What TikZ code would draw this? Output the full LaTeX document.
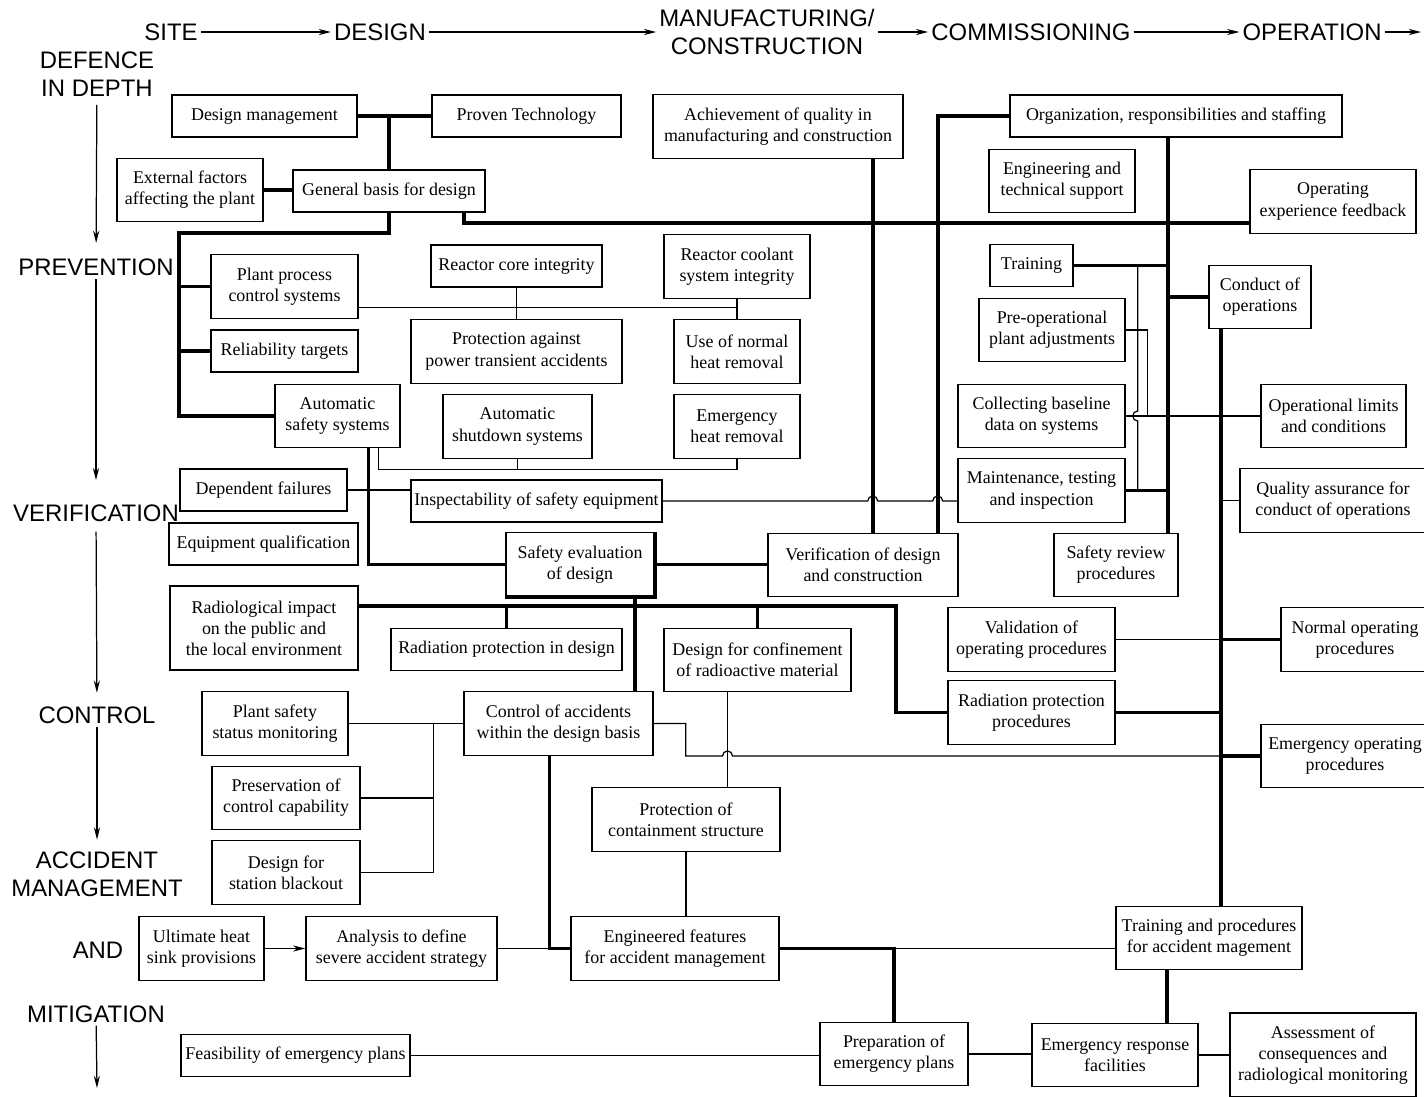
\documentclass[tikz,border=0pt]{standalone}
\usepackage{fontspec}
\setmainfont{Liberation Serif}
\setsansfont{Liberation Sans}
\usetikzlibrary{arrows.meta}

\begin{document}
\begin{tikzpicture}[x=0.02cm, y=-0.02cm, line width=0.7pt,
			box/.style={draw, rectangle, line width=0.8pt, align=center, inner sep=2pt, minimum height=0.84cm, font=\fontsize{10.2}{12}\selectfont},
			tall/.style={minimum height=1.27cm},
			taller/.style={minimum height=1.68cm},
			bw/.style={minimum width=#1*0.02cm},
			phase/.style={font=\sffamily\fontsize{13.6}{15.9}\selectfont, align=center, inner sep=1.5pt},
			main/.style={line width=2.2pt},
			>={Stealth[length=7pt,width=3.5pt]}]
			\useasboundingbox (0,0) rectangle (1424,1096);

			\node[phase](p1) at (171,32) {SITE};
			\node[phase](p2) at (380,32) {DESIGN};
			\node[phase](p3) at (767,32) {MANUFACTURING/\\CONSTRUCTION};
			\node[phase](p4) at (1031,32) {COMMISSIONING};
			\node[phase](p5) at (1312,32) {OPERATION};
			\coordinate (pend) at (1421,32);
			\draw[->] (p1) -- (p2);
			\draw[->] (p2) -- (p3);
			\draw[->] (p3) -- (p4);
			\draw[->] (p4) -- (p5);
			\draw[->] (p5) -- (pend);

			\node[phase](d1) at (97,74) {DEFENCE\\IN DEPTH};
			\node[phase](d2) at (96,267) {PREVENTION};
			\node[phase](d3) at (96,513) {VERIFICATION};
			\node[phase](d4) at (97,715) {CONTROL};
			\node[phase](d5) at (97,874) {ACCIDENT\\MANAGEMENT};
			\node[phase](d6) at (98,950) {AND};
			\node[phase](d7) at (96,1014) {MITIGATION};
			\coordinate (dend) at (97,1088);
			\draw[->, shorten <=3pt, shorten >=7pt] (d1) -- (d2);
			\draw[->, shorten >=12pt] (d2) -- (d3);
			\draw[->, shorten <=4pt, shorten >=6pt] (d3) -- (d4);
			\draw[->, shorten >=5pt] (d4) -- (d5);
			\draw[->] (d7) -- (dend);

			\node[box, bw=185](node1) at (264.5,116) {Design management};
			\node[box, bw=189](node2) at (526.5,116) {Proven Technology};
			\node[box, tall, bw=250](node3) at (778,126.5) {Achievement of quality in\\manufacturing and construction};
			\node[box, bw=332](node4) at (1176,116) {Organization, responsibilities and staffing};
			\node[box, tall, bw=146](node5) at (190,190) {External factors\\affecting the plant};
			\node[box, bw=192](node6) at (389,191) {General basis for design};
			\node[box, tall, bw=146](node7) at (1062,181) {Engineering and\\technical support};
			\node[box, tall, bw=166](node8) at (1333,201.5) {Operating\\experience feedback};
			\node[box, tall, bw=147](node9) at (284.5,286.5) {Plant process\\control systems};
			\node[box, bw=171](node10) at (516.5,266) {Reactor core integrity};
			\node[box, tall, bw=146](node11) at (737,266.5) {Reactor coolant\\system integrity};
			\node[box, bw=83](node12) at (1031.5,265.5) {Training};
			\node[box, tall, bw=102](node13) at (1260,297) {Conduct of\\operations};
			\node[box, bw=147](node14) at (284.5,351) {Reliability targets};
			\node[box, tall, bw=211](node15) at (516.5,351.5) {Protection against\\power transient accidents};
			\node[box, tall, bw=126](node16) at (737,351.5) {Use of normal\\heat removal};
			\node[box, tall, bw=146](node17) at (1052,330) {Pre-operational\\plant adjustments};
			\node[box, tall, bw=125](node18) at (337.5,416) {Automatic\\safety systems};
			\node[box, tall, bw=149](node19) at (517.5,426.5) {Automatic\\shutdown systems};
			\node[box, tall, bw=126](node20) at (737,426.5) {Emergency\\heat removal};
			\node[box, tall, bw=167](node21) at (1041.5,416) {Collecting baseline\\data on systems};
			\node[box, tall, bw=145](node22) at (1333.5,416) {Operational limits\\and conditions};
			\node[box, bw=167](node23) at (263.5,490) {Dependent failures};
			\node[box, bw=251](node24) at (536.5,501) {Inspectability of safety equipment};
			\node[box, tall, bw=167](node25) at (1041.5,490.5) {Maintenance, testing\\and inspection};
			\node[box, tall, bw=186](node26) at (1333,500.5) {Quality assurance for\\conduct of operations};
			\node[box, bw=189](node27) at (263.5,544) {Equipment qualification};
			\node[box, tall, bw=148](node28) at (580,564.5) {Safety evaluation\\of design};
			\node[box, tall, bw=190](node29) at (863,565) {Verification of design\\and construction};
			\node[box, tall, bw=124](node30) at (1116,565) {Safety review\\procedures};
			\node[box, taller, bw=188](node31) at (264,628) {Radiological impact\\on the public and\\the local environment};
			\node[box, bw=231](node32) at (506.5,649.5) {Radiation protection in design};
			\node[box, tall, bw=187](node33) at (757.5,660) {Design for confinement\\of radioactive material};
			\node[box, tall, bw=167](node34) at (1031.5,639.5) {Validation of\\operating procedures};
			\node[box, tall, bw=148](node35) at (1355,639.5) {Normal operating\\procedures};
			\node[box, tall, bw=167](node36) at (1031.5,712.5) {Radiation protection\\procedures};
			\node[box, tall, bw=146](node37) at (275,723.5) {Plant safety\\status monitoring};
			\node[box, tall, bw=189](node38) at (558.5,723.5) {Control of accidents\\within the design basis};
			\node[box, tall, bw=168](node39) at (1345,756) {Emergency operating\\procedures};
			\node[box, tall, bw=148](node40) at (286,798) {Preservation of\\control capability};
			\node[box, tall, bw=188](node41) at (686,819.5) {Protection of\\containment structure};
			\node[box, tall, bw=148](node42) at (286,872.5) {Design for\\station blackout};
			\node[box, tall, bw=125](node43) at (201.5,948.5) {Ultimate heat\\sink provisions};
			\node[box, tall, bw=191](node44) at (401.5,948.5) {Analysis to define\\severe accident strategy};
			\node[box, tall, bw=208](node45) at (675,948.5) {Engineered features\\for accident management};
			\node[box, tall, bw=186](node46) at (1209,938) {Training and procedures\\for accident magement};
			\node[box, bw=229](node47) at (295.5,1055.5) {Feasibility of emergency plans};
			\node[box, tall, bw=148](node48) at (894,1054) {Preparation of\\emergency plans};
			\node[box, tall, bw=166](node49) at (1115,1055) {Emergency response\\facilities};
			\node[box, taller, bw=186](node50) at (1323,1055) {Assessment of\\consequences and\\radiological monitoring};

			\coordinate (bus1) at ([yshift=-0.4cm]node6.south);
			\coordinate (bus2) at ([xshift=-1.9cm]node18.west);
			\coordinate (gb) at ([xshift=-0.44cm]node6.south east);
			\coordinate (q1) at ([xshift=-0.62cm]node3.south east);
			\coordinate (q2) at ([xshift=-0.42cm]node29.north east);
			\coordinate (sr) at ([xshift=-0.22cm]node30.north east);
			\coordinate (co) at ([xshift=-0.78cm]node13.south);
			\coordinate (pp) at ([yshift=-0.42cm]node9.east);
			\coordinate (sd) at ([xshift=0.82cm,yshift=-0.42cm]node18.south);
			\coordinate (tv) at ([xshift=0.24cm]node21.east);
			\coordinate (rad) at ([yshift=0.44cm]node31.east);
			\coordinate (se) at ([xshift=-0.4cm]node28.south east);
			\coordinate (cb) at ([xshift=1.46cm]node42.east);
			\coordinate (cc) at ([xshift=0.64cm]node38.south east);
			\coordinate (dc) at ([xshift=-0.6cm]node33.south);
			\coordinate (tp) at ([xshift=-0.84cm]node46.south);
			\coordinate (h1) at (dc |- cc);
			\coordinate (h2) at (q1 |- node24.east);
			\coordinate (h3) at (q2 |- node24.east);

			\draw (pp) -- (pp -| node16.north);
			\draw (node10.south) -- (node15.north);
			\draw (node11.south) -- (node16.north);
			\draw ([xshift=0.82cm]node18.south) -- (sd) -| (node20.south);
			\draw (node19.south) -- (node19.south |- sd);
			\draw (node23.east) -- (node23.east -| node24.west);
			\draw (node24.east) -- ([xshift=-0.1cm]h2) arc[start angle=180, end angle=0, radius=0.1cm] -- ([xshift=-0.1cm]h3) arc[start angle=180, end angle=0, radius=0.1cm] -- (node24.east -| node25.west);
			\draw (node21.east) -- (node22.west);
			\draw (node17.east) -| ([xshift=0.44cm]node21.east);
			\draw (tv |- node12.east) -- ([yshift=0.1cm]tv) arc[start angle=90, end angle=270, radius=0.1cm] -- (tv |- node25.east);
			\draw (node26.west) -- (node26.west -| co);
			\draw (node34.east) -- (node34.east -| co);
			\draw (node37.east) -- (node37.east -| node38.west);
			\draw (node42.east) -- (cb) -- (cb |- node37.east);
			\draw (node40.east) -- (node40.east -| cb);
			\draw (dc) -- (dc |- node41.north);
			\draw (node38.east) -| (cc) -- ([xshift=-0.1cm]h1) arc[start angle=180, end angle=0, radius=0.1cm] -- (cc -| co);
			\draw (node41.south) -- (node41.south |- node45.north);
			\draw[->] (node43) -- (node44);
			\draw (node44) -- (node45);
			\draw (node45.east) -- (node45.east -| node46.west);
			\draw (node47.east) -- (node47.east -| node48.west);
			\draw (node48.east) -- (node48.east -| node49.west);
			\draw (node49.east) -- (node49.east -| node50.west);

			\draw[main] (node1) -- (node2);
			\draw[main] (node6.north) |- (node1.east);
			\draw[main] (node5.east) -- (node5.east -| node6.west);
			\draw[main] (node6.south) -- (bus1) -| (bus2) -- (node18.west);
			\draw[main] (bus2 |- node9.west) -- (node9.west);
			\draw[main] (bus2 |- node14.west) -- (node14.west);
			\draw[main] (gb) |- ([yshift=0.22cm]node8.south west);
			\draw[main] (q1) -- (q1 |- node29.north);
			\draw[main] (node4.west) -| (q2);
			\draw[main] (sr) -- (sr |- node4.south);
			\draw[main] (node12.east) -- (node12.east -| sr);
			\draw[main] (sr |- node13.west) -- (node13.west);
			\draw[main] (node25.east) -- (node25.east -| sr);
			\draw[main] (co) -- (co |- node46.north);
			\draw[main] (co |- node35.west) -- (node35.west);
			\draw[main] (co |- node39.west) -- (node39.west);
			\draw[main] (node36.east) -- (node36.east -| co);
			\draw[main] ([xshift=0.62cm]node18.south) |- (node28.west);
			\draw[main] (node28.east) -- (node28.east -| node29.west);
			\draw[main] (node28.north east) -- (node28.south east) -- (node28.south west);
			\draw[main] (se) -- (se |- node38.north);
			\draw[main] (rad) -| ([xshift=-1.02cm]node36.west) -- (node36.west);
			\draw[main] (node32.north) -- (node32.north |- rad);
			\draw[main] (node33.north) -- (node33.north |- rad);
			\draw[main] ([xshift=-0.18cm]node38.south) |- (node45.west);
			\draw[main] (node45.east) -| (node48.north);
			\draw[main] (tp) -- (tp |- node49.north);
			\end{tikzpicture}
\end{document}
